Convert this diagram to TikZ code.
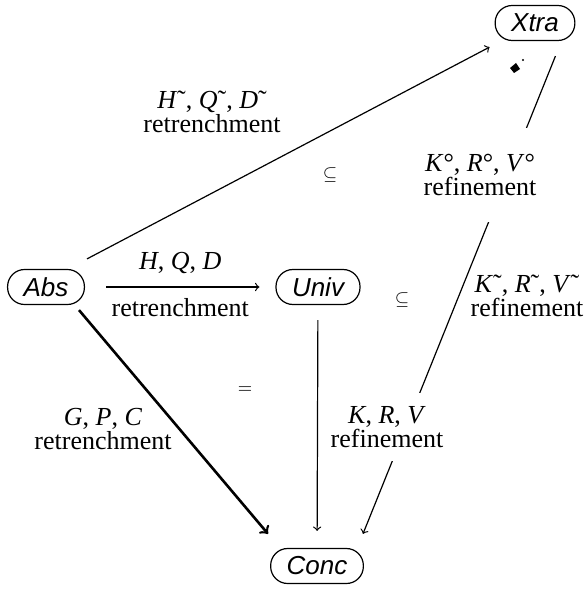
\documentclass[tikz,border=0pt]{standalone}
\usepackage{fontspec}
\setmainfont{Liberation Serif}
\setsansfont{Liberation Sans}
\usepackage{tikz}
\usetikzlibrary{arrows, positioning}

\begin{document}
\begin{tikzpicture}[x=0.5pt, y=-0.5pt, every node/.style={font=\fontsize{13}{12}\selectfont}]
\tikzstyle{spec} = [rectangle, rounded corners=8.5pt, minimum height=17.5pt, inner xsep=8pt, draw=black, line width=0.6pt, font=\fontsize{13}{12}\selectfont\sffamily\itshape]
\tikzstyle{arrow} = [line width=0.6pt, ->, >=to]
\tikzstyle{thickarrow} = [line width=1.3pt, ->, >=to]
\tikzstyle{lbl} = [align=center, inner sep=1pt]
\tikzstyle{rel} = [font=\fontsize{9}{10}\selectfont]

\useasboundingbox (0,0) rectangle (584,592);

\node (abs) [spec] at (46,287) {Abs};
\node (univ) [spec] at (318,287) {Univ};
\node (xtra) [spec] at (535,23) {Xtra};
\node (conc) [spec] at (317,566) {Conc};

\draw [arrow, shorten <=10.5pt, shorten >=8pt] (abs) -- node[above=3pt] {\textit{H}, \textit{Q}, \textit{D}} node[below=2pt] {retrenchment} (univ);
\draw [arrow] ([shift={(2,-10)}]abs.north east) -- ([shift={(-5,6)}]xtra.south west);
\draw [thickarrow] ([shift={(-6,5)}]abs.south east) -- ([shift={(-2,-14)}]conc.north west);
\draw [arrow, shorten <=7.5pt, shorten >=8.5pt] (univ) -- (conc);
\draw [arrow] ([shift={(-20,15)}]xtra.south east) -- ([shift={(-1,-14)}]conc.north east);

% labels that break the Xtra--Conc line
\node (krvcirc) [lbl, fill=white, inner ysep=13pt] at (480,175) {\textit{K}°, \textit{R}°, \textit{V}°\\refinement};
\node (krv) [lbl, fill=white, inner ysep=6.5pt] at (387,427) {\textit{K}, \textit{R}, \textit{V}\\refinement};

\node (hqdt) [lbl] at (212,112) {\textit{H}˜, \textit{Q}˜, \textit{D}˜\\retrenchment};
\node (gpc) [lbl] at (103,429) {\textit{G}, \textit{P}, \textit{C}\\retrenchment};
\node (krvt) [lbl] at (527,296) {\textit{K}˜, \textit{R}˜, \textit{V}˜\\refinement};

\node (sub1) [rel] at (330,175) {$\subseteq$};
\node (sub2) [rel] at (402,300) {$\subseteq$};
\node (eq) [rel] at (245,390) {$=$};

% stray mark under Xtra
\fill (510,68) -- (516,63) -- (520,69) -- (514,73) -- cycle;
\fill (523,60) circle (1.2);

\end{tikzpicture}
\end{document}
